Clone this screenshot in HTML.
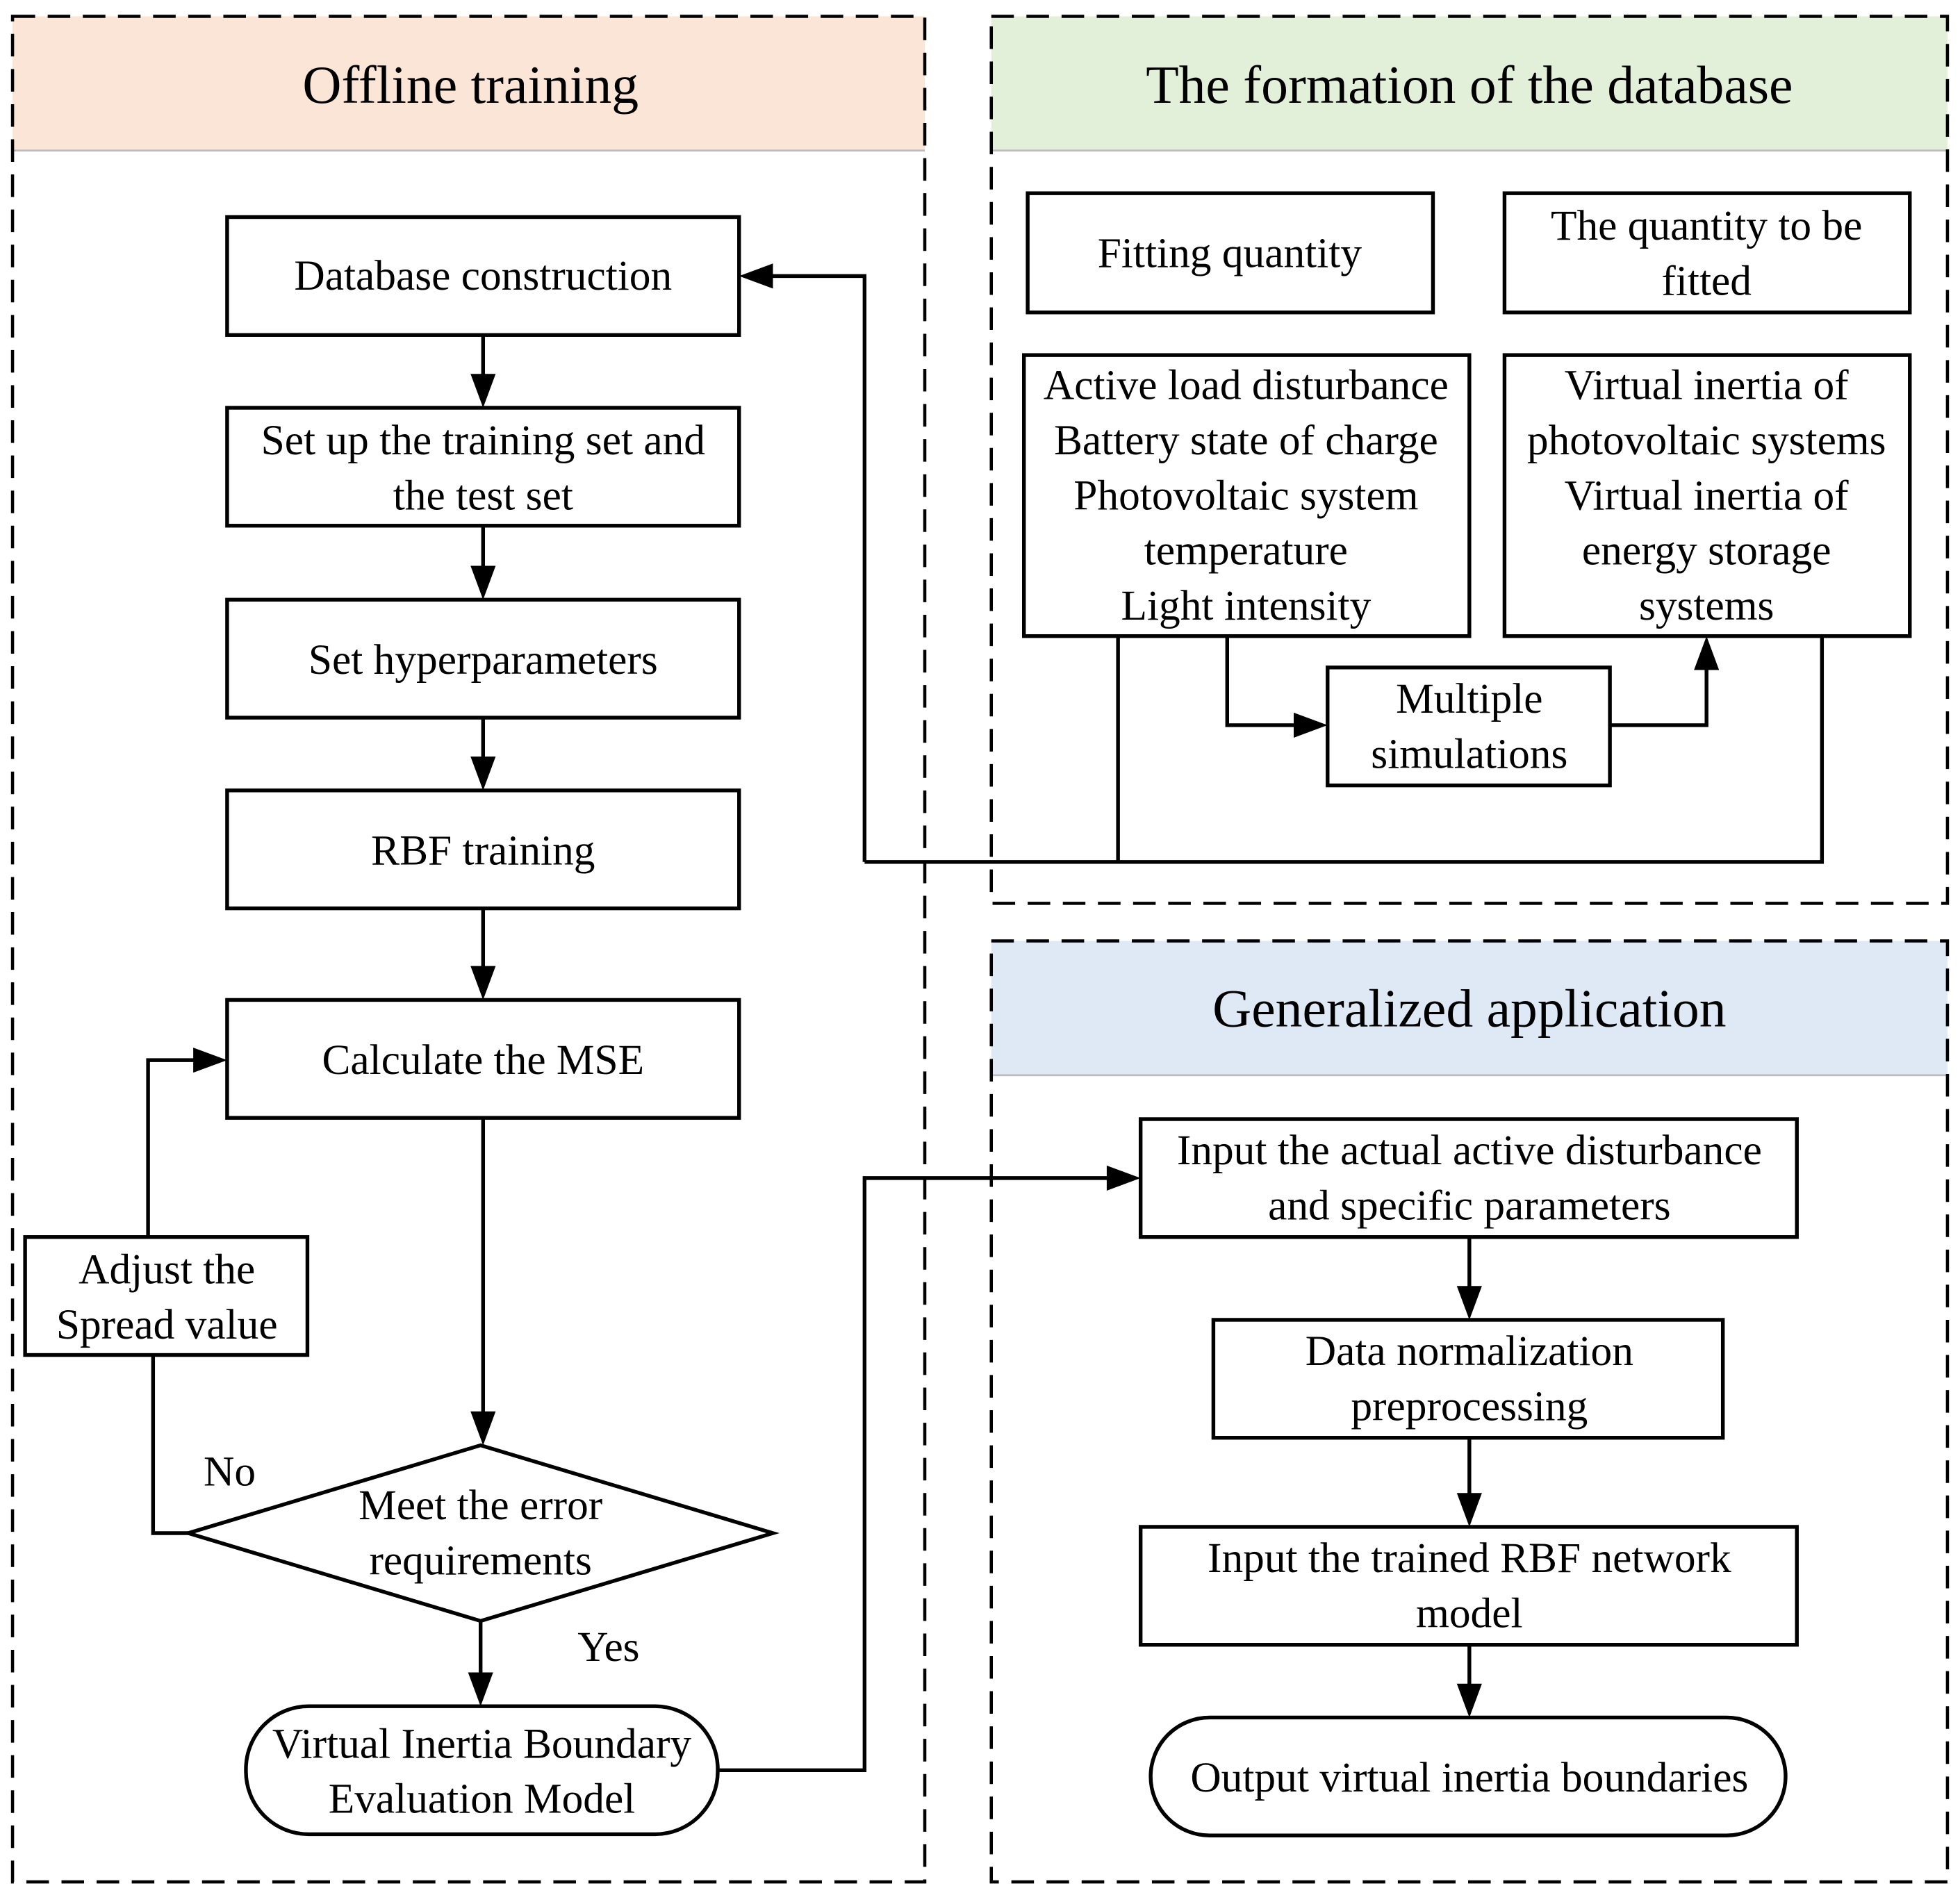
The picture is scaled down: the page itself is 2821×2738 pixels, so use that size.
<!DOCTYPE html>
<html><head><meta charset="utf-8"><style>
html,body{margin:0;padding:0;background:#fff;}
svg{display:block;}
text{font-family:"Liberation Serif",serif;fill:#000;}
</style></head><body>
<svg width="2821" height="2738" viewBox="0 0 1562 1516" xmlns="http://www.w3.org/2000/svg">
<!-- headers -->
<rect x="10" y="13" width="727" height="107" fill="#fbe5d6"/>
<rect x="790" y="13" width="762" height="107" fill="#e2efd9"/>
<rect x="790" y="750" width="762" height="107" fill="#dee9f5"/>
<line x1="10" y1="120" x2="737" y2="120" stroke="#bbb" stroke-width="1.5"/>
<line x1="790" y1="120" x2="1552" y2="120" stroke="#bbb" stroke-width="1.5"/>
<line x1="790" y1="857" x2="1552" y2="857" stroke="#bbb" stroke-width="1.5"/>
<g fill="none" stroke="#000" stroke-width="2.5" stroke-dasharray="18,10">
<rect x="10" y="13" width="727" height="1487"/>
<rect x="790" y="13" width="762" height="707"/>
<rect x="790" y="750" width="762" height="750"/>
</g>
<text x="375" y="82" font-size="43" text-anchor="middle">Offline training</text>
<text x="1171" y="82" font-size="43" text-anchor="middle">The formation of the database</text>
<text x="1171" y="818" font-size="43" text-anchor="middle">Generalized application</text>

<g fill="#fff" stroke="#000" stroke-width="3">
<rect x="181" y="173" width="408" height="94"/>
<rect x="181" y="325" width="408" height="94"/>
<rect x="181" y="478" width="408" height="94"/>
<rect x="181" y="630" width="408" height="94"/>
<rect x="181" y="797" width="408" height="94"/>
<polygon points="150,1222 383,1152 616,1222 383,1292"/>
<rect x="20" y="986" width="225" height="94"/>
<rect x="196" y="1360" width="376" height="102" rx="50"/>
<rect x="819" y="154" width="323" height="95"/>
<rect x="1199" y="154" width="323" height="95"/>
<rect x="816" y="283" width="355" height="224"/>
<rect x="1199" y="283" width="323" height="224"/>
<rect x="1058" y="532" width="225" height="94"/>
<rect x="909" y="892" width="523" height="94"/>
<rect x="967" y="1052" width="406" height="94"/>
<rect x="909" y="1217" width="523" height="94"/>
<rect x="917" y="1369" width="506" height="94" rx="47"/>
</g>

<g fill="none" stroke="#000" stroke-width="3">
<line x1="385" y1="267" x2="385" y2="300"/>
<line x1="385" y1="419" x2="385" y2="453"/>
<line x1="385" y1="572" x2="385" y2="605"/>
<line x1="385" y1="724" x2="385" y2="772"/>
<line x1="385" y1="891" x2="385" y2="1127"/>
<line x1="383" y1="1292" x2="383" y2="1335"/>
<polyline points="150,1222 122,1222 122,1080"/>
<polyline points="118,986 118,845 156,845"/>
<polyline points="572,1411 689,1411 689,939 884,939"/>
<polyline points="891,507 891,687 1452,687 1452,507"/>
<polyline points="689,687 891,687"/>
<polyline points="689,687 689,220 614,220"/>
<polyline points="978,507 978,578 1033,578"/>
<polyline points="1283,578 1360,578 1360,532"/>
<line x1="1171" y1="986" x2="1171" y2="1027"/>
<line x1="1171" y1="1146" x2="1171" y2="1192"/>
<line x1="1171" y1="1311" x2="1171" y2="1344"/>
</g>
<g fill="#000">
<polygon points="375,298 395,298 385,325"/>
<polygon points="375,451 395,451 385,478"/>
<polygon points="375,603 395,603 385,630"/>
<polygon points="375,770 395,770 385,797"/>
<polygon points="375,1125 395,1125 385,1152"/>
<polygon points="373,1333 393,1333 383,1360"/>
<polygon points="154,835 154,855 181,845"/>
<polygon points="882,929 882,949 909,939"/>
<polygon points="616,210 616,230 589,220"/>
<polygon points="1031,568 1031,588 1058,578"/>
<polygon points="1350,534 1370,534 1360,507"/>
<polygon points="1161,1025 1181,1025 1171,1052"/>
<polygon points="1161,1190 1181,1190 1171,1217"/>
<polygon points="1161,1342 1181,1342 1171,1369"/>
</g>

<g font-size="34" text-anchor="middle">
<text x="385" y="231">Database construction</text>
<text x="385" y="362">Set up the training set and</text>
<text x="385" y="406">the test set</text>
<text x="385" y="537">Set hyperparameters</text>
<text x="385" y="689">RBF training</text>
<text x="385" y="856">Calculate the MSE</text>
<text x="383" y="1211">Meet the error</text>
<text x="383" y="1255">requirements</text>
<text x="133" y="1023">Adjust the</text>
<text x="133" y="1067">Spread value</text>
<text x="384" y="1401">Virtual Inertia Boundary</text>
<text x="384" y="1445">Evaluation Model</text>
<text x="183" y="1184">No</text>
<text x="485" y="1324">Yes</text>
<text x="980" y="213">Fitting quantity</text>
<text x="1360" y="191">The quantity to be</text>
<text x="1360" y="235">fitted</text>
<text x="993" y="318">Active load disturbance</text>
<text x="993" y="362">Battery state of charge</text>
<text x="993" y="406">Photovoltaic system</text>
<text x="993" y="450">temperature</text>
<text x="993" y="494">Light intensity</text>
<text x="1360" y="318">Virtual inertia of</text>
<text x="1360" y="362">photovoltaic systems</text>
<text x="1360" y="406">Virtual inertia of</text>
<text x="1360" y="450">energy storage</text>
<text x="1360" y="494">systems</text>
<text x="1171" y="568">Multiple</text>
<text x="1171" y="612">simulations</text>
<text x="1171" y="928">Input the actual active disturbance</text>
<text x="1171" y="972">and specific parameters</text>
<text x="1171" y="1088">Data normalization</text>
<text x="1171" y="1132">preprocessing</text>
<text x="1171" y="1253">Input the trained RBF network</text>
<text x="1171" y="1297">model</text>
<text x="1171" y="1428">Output virtual inertia boundaries</text>
</g>
</svg>
</body></html>
